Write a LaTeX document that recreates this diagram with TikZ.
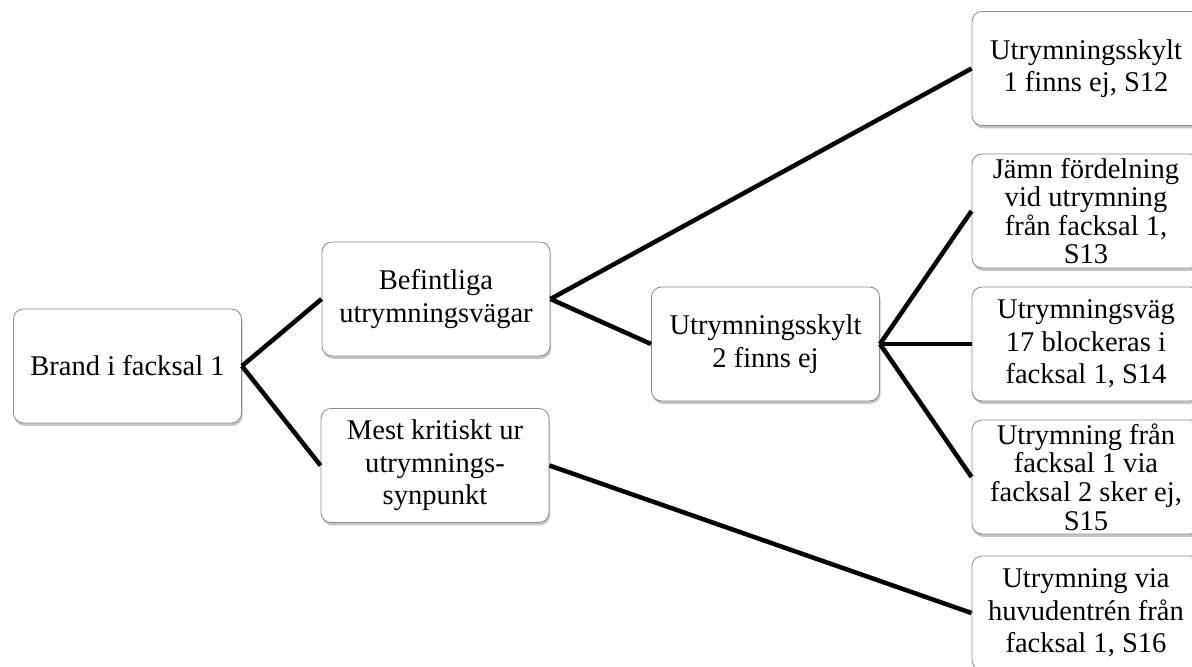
\documentclass[tikz,border=0pt]{standalone}
\usepackage{fontspec}
\setmainfont{Liberation Serif}
\usepackage{tikz}
\usetikzlibrary{shadows}
\definecolor{boxline}{HTML}{8C8C8C}

\begin{document}
\begin{tikzpicture}[
        x=0.025cm, y=-0.025cm,
        box/.style={
            rectangle,
            draw=boxline,
            line width=0.6pt,
            fill=white,
            rounded corners=0.25cm,
            align=center,
            minimum width=5.7cm,
            minimum height=2.85cm,
            inner xsep=2pt,
            inner ysep=0pt,
            font=\fontsize{20.3}{23}\selectfont,
            drop shadow={shadow xshift=0.8pt, shadow yshift=-2pt, opacity=0.45}
        },
        tight/.style={
            font=\fontsize{20.3}{20.3}\selectfont
        },
        link/.style={
            draw=black,
            line width=3.2pt
        }
    ]
        \useasboundingbox (0,0) rectangle (1192,666);

        % root
        \node[box] (brand) at (127.5,366) {Brand i facksal 1};

        % second level
        \node[box] (befintliga) at (436,299) {Befintliga\\utrymningsvägar};
        \node[box] (kritiskt) at (435,465.5) {Mest kritiskt ur\\utrymnings-\\synpunkt};

        % third level
        \node[box] (skylt2) at (765.5,344) {Utrymningsskylt\\2 finns ej};

        % leaves
        \node[box] (s12) at (1086,68.5) {Utrymningsskylt\\1 finns ej, S12};
        \node[box, tight] (s13) at (1086,211) {Jämn fördelning\\vid utrymning\\från facksal 1,\\S13};
        \node[box] (s14) at (1086,344) {Utrymningsväg\\17 blockeras i\\facksal 1, S14};
        \node[box, tight] (s15) at (1086,477) {Utrymning från\\facksal 1 via\\facksal 2 sker ej,\\S15};
        \node[box] (s16) at (1086,613) {Utrymning via\\huvudentrén från\\facksal 1, S16};

        % connections
        \draw[link] (brand.east) -- (befintliga.west);
        \draw[link] (brand.east) -- (kritiskt.west);
        \draw[link] (befintliga.east) -- (s12.west);
        \draw[link] (befintliga.east) -- (skylt2.west);
        \draw[link] (skylt2.east) -- (s13.west);
        \draw[link] (skylt2.east) -- (s14.west);
        \draw[link] (skylt2.east) -- (s15.west);
        \draw[link] (kritiskt.east) -- (s16.west);
    \end{tikzpicture}
\end{document}
